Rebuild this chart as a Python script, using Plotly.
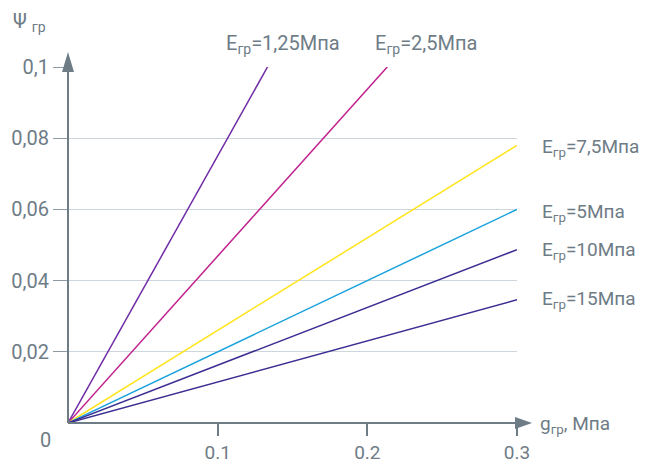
import plotly.graph_objects as go

# Data
series_names = ["E<sub>гр</sub>=1,25Мпа", "E<sub>гр</sub>=2,5Мпа", "E<sub>гр</sub>=7,5Мпа",
                "E<sub>гр</sub>=5Мпа", "E<sub>гр</sub>=10Мпа", "E<sub>гр</sub>=15Мпа"]
x_end = [0.1333, 0.2133, 0.3, 0.3, 0.3, 0.3]
y_end = [0.1, 0.1, 0.078, 0.06, 0.0487, 0.0346]
colors = ["#6f2ca6", "#c0218e", "#ffe41a", "#1ba3dd", "#3b2e93", "#3b2e93"]
x_ticks = [0.1, 0.2, 0.3]
x_ticklabels = ["0.1", "0.2", "0.3"]
y_ticks = [0.02, 0.04, 0.06, 0.08, 0.1]
y_ticklabels = ["0,02", "0,04", "0,06", "0,08", "0,1"]

TXT = "#6e7c86"
AX = "#6e7c86"
GRID = "#cdd6dc"
FONT = "Roboto"
FS = 20
FS_R = 19

# page body has an 8px margin; work in page pixels and convert
OFF = 8
W, H = 649 - OFF, 460 - OFF
L, R, T, B = 68, 517, 67, 423  # plot area in page pixels

def px(x):
    return (x - L) / (R - L)

def py(y):
    return (B - y) / (B - T)

fig = go.Figure()
for name, xe, ye, c in zip(series_names, x_end, y_end, colors):
    fig.add_trace(go.Scatter(x=[0, xe], y=[0, ye], mode="lines",
                             line=dict(color=c, width=1.5), name=name,
                             showlegend=False, hoverinfo="skip"))

# axis lines with arrows
shapes = [
    dict(type="line", xref="paper", yref="paper", x0=0, y0=0, x1=0, y1=py(70),
         line=dict(color=AX, width=2)),
    dict(type="line", xref="paper", yref="paper", x0=0, y0=0, x1=px(520), y1=0,
         line=dict(color=AX, width=2)),
    dict(type="path", xref="paper", yref="paper",
         path=f"M {px(68)} {py(52)} L {px(62)} {py(72)} L {px(74)} {py(72)} Z",
         fillcolor=AX, line=dict(color=AX, width=0)),
    dict(type="path", xref="paper", yref="paper",
         path=f"M {px(532)} {py(423)} L {px(515)} {py(417)} L {px(515)} {py(429)} Z",
         fillcolor=AX, line=dict(color=AX, width=0)),
]

annotations = [
    dict(text="Ψ <sub>гр</sub>", xref="paper", yref="paper", x=px(11), y=py(22),
         xanchor="left", yanchor="middle", showarrow=False,
         font=dict(family=FONT, size=FS, color=TXT)),
    dict(text="g<sub>гр</sub>, Мпа", xref="paper", yref="paper", x=px(538), y=py(424),
         xanchor="left", yanchor="middle", showarrow=False,
         font=dict(family=FONT, size=FS_R, color=TXT)),
    dict(text="0", xref="paper", yref="paper", x=px(45), y=py(440),
         xanchor="center", yanchor="middle", showarrow=False,
         font=dict(family=FONT, size=FS, color=TXT)),
]

label_pos = [(283, 44, "center", FS), (426, 44, "center", FS), (540, 147, "left", FS_R),
             (540, 212, "left", FS_R), (540, 250, "left", FS_R), (540, 299, "left", FS_R)]
for name, (lx, ly, anc, fs) in zip(series_names, label_pos):
    annotations.append(dict(text=name, xref="paper", yref="paper", x=px(lx), y=py(ly),
                            xanchor=anc, yanchor="middle", showarrow=False,
                            font=dict(family=FONT, size=fs, color=TXT)))

fig.update_layout(
    width=W, height=H,
    margin=dict(l=L - OFF, r=649 - R, t=T - OFF, b=460 - B, autoexpand=False),
    paper_bgcolor="white", plot_bgcolor="white",
    shapes=shapes, annotations=annotations,
    font=dict(family=FONT, size=FS, color=TXT),
    xaxis=dict(range=[0, 0.3], tickvals=x_ticks, ticktext=x_ticklabels,
               showgrid=False, zeroline=False, showline=False, automargin=False,
               ticks="outside", ticklen=12, tickwidth=1.5, tickcolor=AX,
               tickfont=dict(family=FONT, size=FS_R, color=TXT)),
    yaxis=dict(range=[0, 0.1], tickvals=y_ticks, ticktext=y_ticklabels,
               showgrid=True, gridcolor=GRID, gridwidth=1, zeroline=False, showline=False,
               automargin=False,
               ticks="outside", ticklen=14, tickwidth=1, tickcolor="#8d9aa3",
               tickfont=dict(family=FONT, size=FS, color=TXT)),
)

fig.write_html("out.html")
